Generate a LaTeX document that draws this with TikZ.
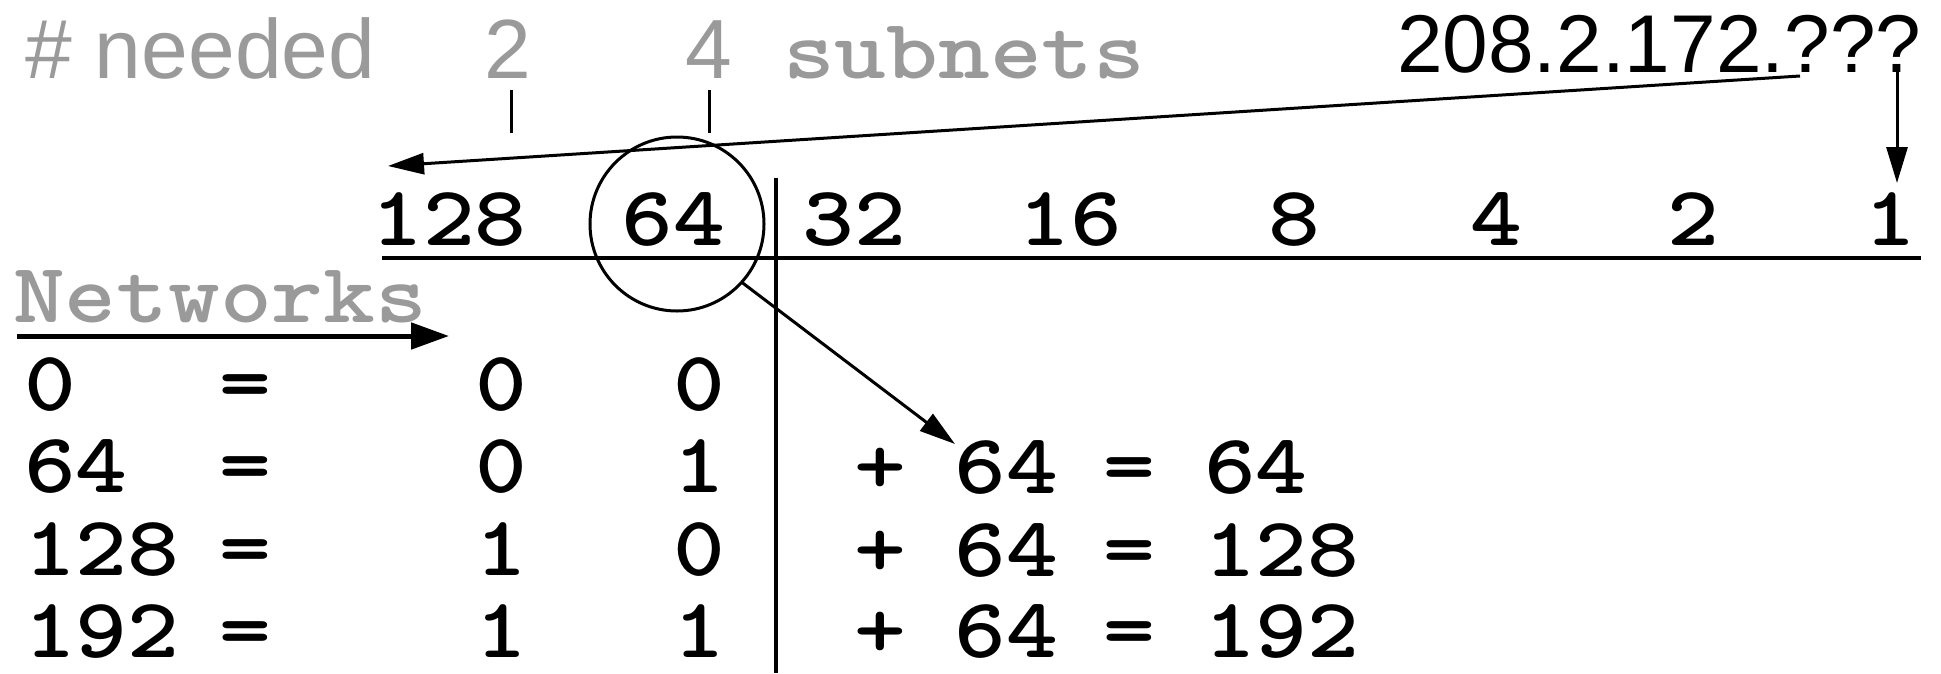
\documentclass[tikz,border=0pt]{standalone}
\usepackage{fontspec}
\usepackage{graphicx}
\usetikzlibrary{arrows.meta}
\newfontfamily\hsans{Liberation Sans}
\definecolor{lblgray}{HTML}{9A9A9A}
\newcommand\cw[1]{\scalebox{1.16}[1]{#1}}
\begin{document}
\begin{tikzpicture}[x=1pt,y=-1pt,
  every node/.style={inner sep=0pt,outer sep=0pt},
  numtxt/.style={font=\fontsize{85}{85}\selectfont\ttfamily\bfseries,anchor=base,text=black},
  graysans/.style={font=\fontsize{84}{84}\selectfont\hsans,text=lblgray,anchor=base},
  graymono/.style={font=\fontsize{85}{85}\selectfont\ttfamily\bfseries,text=lblgray,anchor=base west},
  ipstyle/.style={font=\fontsize{82}{82}\selectfont\hsans,text=black,anchor=base west},
  rule/.style={line width=#1,black},
  arr/.style={line width=3pt,-{Triangle[length=36pt,width=21pt]}},
]
\useasboundingbox (0,0) rectangle (1941,673);

% top labels
\node[graysans,anchor=base west] (needed) at (25,78) {\# needed};
\node[graysans] (n2) at (508,78) {2};
\node[graysans] (n4) at (709,78) {4};
\node[graymono] (subn) at (783,78) {\cw{subnets}};
\node[ipstyle] (ip) at (1397,72) {208.2.172.???};

% ticks
\coordinate (t2a) at (511,90); \coordinate (t2b) at (511,133);
\coordinate (t4a) at (709,90); \coordinate (t4b) at (709,133);
\draw[rule=3pt] (t2a) -- (t2b);
\draw[rule=3pt] (t4a) -- (t4b);

% header numbers
\node[numtxt] (h128) at (449,245) {\cw{128}};
\node[numtxt] (h64)  at (673,245) {\cw{64}};
\node[numtxt] (h32)  at (854,245) {\cw{32}};
\node[numtxt] (h16)  at (1070,245) {\cw{16}};
\node[numtxt] (h8)   at (1294,245) {\cw{8}};
\node[numtxt] (h4)   at (1496,245) {\cw{4}};
\node[numtxt] (h2)   at (1693,245) {\cw{2}};
\node[numtxt] (h1)   at (1890,245) {\cw{1}};

% rules
\coordinate (hl) at (382,258); \coordinate (hr) at (1921,258);
\draw[rule=4pt] (hl) -- (hr);
\coordinate (vt) at (776,178); \coordinate (vb) at (776,673);
\draw[rule=3.5pt] (vt) -- (vb);

% circle
\node[circle,draw,line width=3pt,minimum size=174pt] (circ) at (677,224) {};

% arrows
\coordinate (ipstart) at (1800,76);
\coordinate (ltip) at (388,166);
\draw[arr] (ipstart) -- (ltip);
\coordinate (vtop) at (1897,68);
\coordinate (vtip) at (1897,183);
\draw[arr] (vtop) -- (vtip);
\coordinate (dtip) at (955,444);
\draw[arr] (circ.-42) -- (dtip);

% Networks
\node[graymono] (netw) at (13,322) {\cw{Networks}};
\coordinate (na) at (17,336); \coordinate (nb) at (449,336);
\draw[line width=5pt,-{Triangle[length=38pt,width=26pt]}] (na) -- (nb);

% table left
\foreach \v/\a/\b/\y [count=\i] in {0/0/0/410,64/0/1/492,128/1/0/575,192/1/1/657}{
  \node[numtxt,anchor=base west] (r\i v) at (24,\y) {\cw{\v}};
  \node[numtxt] (r\i e) at (245,\y) {\cw{=}};
  \node[numtxt] (r\i a) at (501,\y) {\cw{\a}};
  \node[numtxt] (r\i b) at (699,\y) {\cw{\b}};
}
% table right
\foreach \r/\y [count=\i from 2] in {64/493,128/576,192/657}{
  \node[numtxt] (s\i p) at (880,\y) {\cw{+}};
  \node[numtxt] (s\i s) at (1006,\y) {\cw{64}};
  \node[numtxt] (s\i e) at (1129,\y) {\cw{=}};
  \node[numtxt,anchor=base west] (s\i r) at (1204,\y) {\cw{\r}};
}
\end{tikzpicture}
\end{document}
